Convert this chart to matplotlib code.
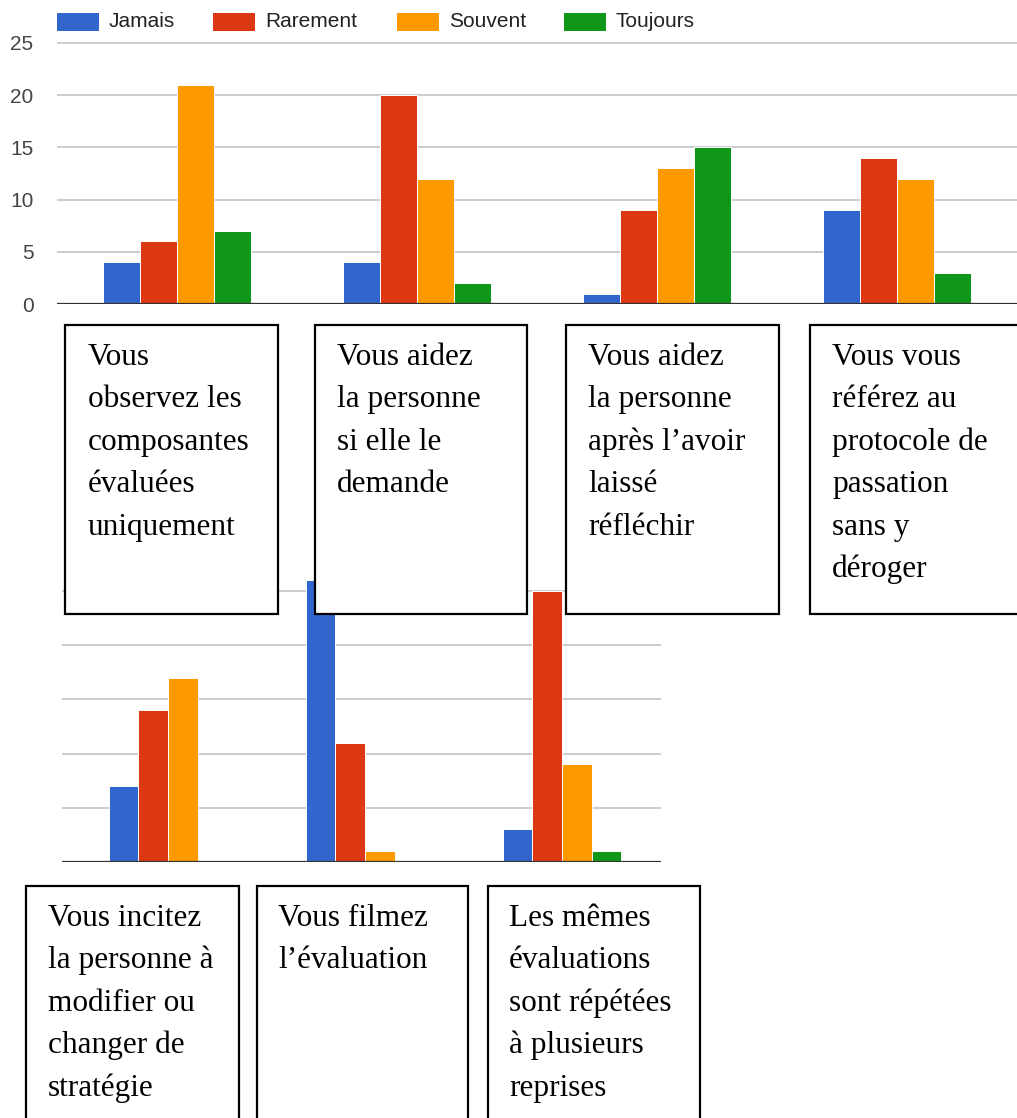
import matplotlib
matplotlib.use("Agg")
import matplotlib.pyplot as plt
from matplotlib.patches import Rectangle
import numpy as np

W, H = 1017, 1118

# données
series = ["Jamais", "Rarement", "Souvent", "Toujours"]
colors = ["#3366cc", "#dc3912", "#ff9900", "#109618"]

top_values = {
    "Jamais":   [4, 4, 1, 9],
    "Rarement": [6, 20, 9, 14],
    "Souvent":  [21, 12, 13, 12],
    "Toujours": [7, 2, 15, 3],
}
bottom_values = {
    "Jamais":   [7, 26, 3],
    "Rarement": [14, 11, 25],
    "Souvent":  [17, 1, 9],
    "Toujours": [0, 0, 1],
}
top_yticks = [0, 5, 10, 15, 20, 25]

top_labels = [
    ["Vous", "observez les", "composantes", "évaluées", "uniquement"],
    ["Vous aidez", "la personne", "si elle le", "demande"],
    ["Vous aidez", "la personne", "après l\u2019avoir", "laissé", "réfléchir"],
    ["Vous vous", "référez au", "protocole de", "passation", "sans y", "déroger"],
]
bottom_labels = [
    ["Vous incitez", "la personne à", "modifier ou", "changer de", "stratégie"],
    ["Vous filmez", "l\u2019évaluation"],
    ["Les mêmes", "évaluations", "sont répétées", "à plusieurs", "reprises"],
]


def fx(x):
    return x / W


def fy(y):
    return 1 - y / H


fig = plt.figure(figsize=(W / 100, H / 100), dpi=100, facecolor="white")


def make_axes(left, right, base_y, px_per_unit, ymax):
    top_y = base_y - ymax * px_per_unit
    ax = fig.add_axes([fx(left), fy(base_y), fx(right - left), (base_y - top_y) / H])
    ax.set_ylim(0, ymax)
    for s in ax.spines.values():
        s.set_visible(False)
    ax.set_axisbelow(True)
    ax.yaxis.grid(True, color="#cccccc", linewidth=1.4)
    ax.axhline(0, color="#333333", linewidth=1.6, zorder=4)
    ax.set_xticks([])
    return ax


def draw_bars(ax, values, width):
    n = len(values[series[0]])
    x = np.arange(n)
    for i, (name, c) in enumerate(zip(series, colors)):
        ax.bar(x + (i - 1.5) * width, values[name], width, color=c,
               edgecolor="white", linewidth=0.7, zorder=3, label=name)


# graphique du haut
ax1 = make_axes(57, 1017, 304, 261 / 25, 26)
draw_bars(ax1, top_values, 0.155)
ax1.set_xlim(-0.5, 3.5)
ax1.set_yticks(top_yticks)
ax1.tick_params(axis="y", length=0, pad=17, labelsize=15, labelcolor="#444444")
for lab in ax1.get_yticklabels():
    lab.set_family("Liberation Sans")

# légende
leg_x = [57, 213, 397, 564]
for name, c, lx in zip(series, colors, leg_x):
    fig.add_artist(Rectangle((fx(lx), fy(31)), fx(42), 18 / H, transform=fig.transFigure,
                             facecolor=c, edgecolor="none"))
    fig.text(fx(lx + 52), fy(21.5), name, fontsize=15, family="Liberation Sans",
             color="#222222", va="center", ha="left")

# graphique du bas
ax2 = make_axes(62, 661, 862, 54.2 / 5, 26.6)
draw_bars(ax2, bottom_values, 0.15)
ax2.set_xlim((62 - 168) / 197, (661 - 168) / 197)
ax2.set_yticks([0, 5, 10, 15, 20, 25])
ax2.tick_params(axis="y", length=0, labelleft=False)


# cadres de texte
def text_box(x0, x1, y0, y1, lines, tx, ty):
    fig.add_artist(Rectangle((fx(x0), fy(y1)), fx(x1 - x0), (y1 - y0) / H,
                             transform=fig.transFigure, facecolor="white",
                             edgecolor="black", linewidth=1.6, zorder=5))
    for k, line in enumerate(lines):
        fig.text(fx(tx), fy(ty + k * 42.4), line, fontsize=22.5,
                 family="Liberation Serif", color="black", va="baseline",
                 ha="left", zorder=6)


top_boxes = [(65, 278), (315, 527), (566, 779), (810, 1030)]
top_tx = [88, 337, 588, 832]
for (x0, x1), tx, lines in zip(top_boxes, top_tx, top_labels):
    text_box(x0, x1, 325, 614, lines, tx, 365)

bottom_boxes = [(26, 239), (257, 468), (488, 700)]
bottom_tx = [48, 278, 509]
for (x0, x1), tx, lines in zip(bottom_boxes, bottom_tx, bottom_labels):
    text_box(x0, x1, 886, 1130, lines, tx, 926)

fig.savefig("out.png", dpi=100, facecolor="white")
